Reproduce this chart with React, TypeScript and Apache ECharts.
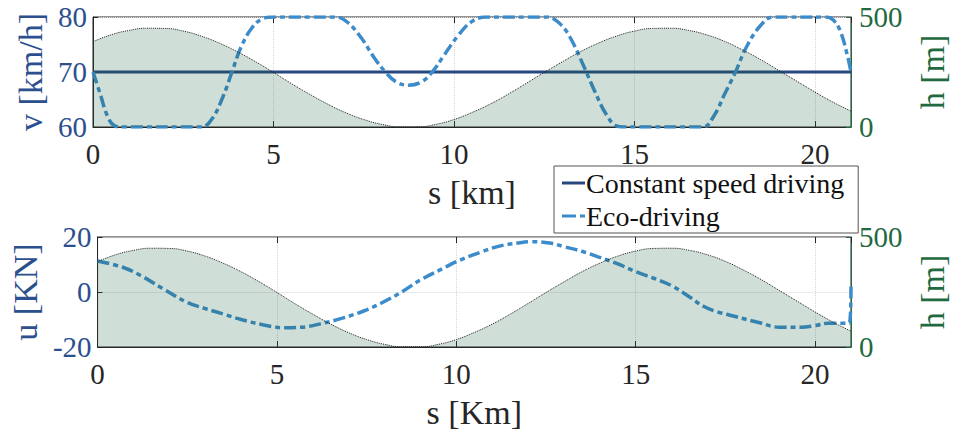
import React, { useEffect, useRef } from "react";
import * as echarts from "echarts";

// distance grid for the terrain profile [km]
const terrainS = [0, 0.5, 1, 1.5, 2, 2.5, 3, 3.5, 4, 4.5, 5, 5.5, 6, 6.5, 7, 7.5, 8, 8.5, 9, 9.5, 10, 10.5, 11, 11.5, 12, 12.5, 13, 13.5, 14, 14.5, 15, 15.5, 16, 16.5, 17, 17.5, 18, 18.5, 19, 19.5, 20, 20.5, 21];
// altitude [m]
const terrainH = [388, 419, 439, 449, 448, 436, 413, 381, 342, 297, 248, 197, 149, 104, 65, 34, 12, 1, 1, 12, 34, 66, 104, 149, 198, 248, 296, 342, 381, 413, 436, 448, 449, 439, 419, 389, 350, 306, 257, 208, 159, 113, 72];

// constant speed driving
const constS = [0, 21];
const constV = [70, 70];

// eco-driving speed
const ecoS = [0, 0.2, 0.4, 0.6, 0.8, 3.0, 3.3, 3.6, 3.85, 4.1, 4.4, 4.7, 5.0, 6.7, 7.0, 7.4, 7.8, 8.1, 8.4, 8.75, 9.1, 9.4, 9.7, 10.1, 10.5, 10.9, 12.6, 12.9, 13.2, 13.6, 13.9, 14.2, 14.5, 14.7, 16.9, 17.2, 17.5, 17.8, 18.1, 18.5, 18.85, 20.3, 20.5, 20.7, 20.9, 21.0];
const ecoV = [70, 66, 62, 60.2, 60, 60, 61.5, 65.5, 70, 74.5, 78, 79.7, 80, 80, 79.3, 76.5, 72.5, 70, 68.2, 67.6, 68.2, 70, 72.8, 76.5, 79.2, 80, 80, 79, 76.5, 71, 66.5, 62.5, 60.2, 60, 60, 62, 66, 70, 74.5, 78.5, 80, 80, 79.5, 77.5, 73, 70];

// eco-driving traction force
const uS = [0, 0.7, 1.2, 1.8, 2.5, 3.0, 3.5, 4.0, 4.6, 5.2, 5.7, 6.2, 6.8, 7.4, 7.9, 8.5, 9.0, 9.6, 10.1, 10.7, 11.2, 11.7, 12.1, 12.6, 13.0, 13.5, 13.95, 14.5, 15.0, 15.5, 16.0, 16.5, 16.9, 17.3, 17.8, 18.4, 19.0, 19.6, 20.0, 20.35, 20.95, 21.0];
const uVal = [11.3, 9.0, 6.0, 1.4, -3.8, -6.0, -8.0, -10.0, -11.9, -13.0, -12.8, -11.6, -9.6, -7.0, -4.1, 0.2, 4.4, 8.4, 11.6, 14.6, 16.7, 17.8, 18.3, 17.8, 16.5, 14.8, 12.8, 10.2, 7.4, 5.0, 2.3, -1.8, -5.3, -7.3, -9.0, -11.0, -12.8, -12.8, -12.2, -11.4, -11.4, 2];

const xTicks = [0, 5, 10, 15, 20];
const vTicks = [60, 70, 80];
const uTicks = [-20, 0, 20];
const hTicks = [0, 500];

const FONT = "Liberation Serif";
const BLUE_TXT = "#2c4f8e";
const GREEN_TXT = "#1f6a3e";
const DARK = "#262626";
const CONST_COL = "#27477f";
const ECO_COL = "#3c8bcb";
const FILL = "rgba(30,100,60,0.3)";
const ECO_DASH = [12, 4, 5, 4];

const pairs = (xs: number[], ys: number[]) => xs.map((x, i) => [x, ys[i]]);

const tickLabel = (color: string, ticks: number[], margin: number, extra: any = {}) => ({
  fontFamily: FONT,
  fontSize: 29,
  color,
  margin,
  ...extra,
  formatter: (v: number) => (ticks.includes(v) ? String(v) : ""),
});

export default function App() {
  const ref = useRef<HTMLDivElement>(null);
  useEffect(() => {
    if (!ref.current) return;
    const chart = echarts.init(ref.current, undefined, { renderer: "svg" });
    const grids = [
      { left: 93, top: 17, width: 763, height: 110 },
      { left: 93, top: 237, width: 763, height: 110 },
    ].map((g) => ({ ...g, show: true, borderColor: DARK, borderWidth: 1, backgroundColor: "transparent" }));

    const xAxisBase = (gi: number, name: string) => ({
      type: "value",
      gridIndex: gi,
      min: 0,
      max: 21,
      interval: 5,
      name,
      nameLocation: "middle",
      nameGap: 48,
      nameTextStyle: { fontFamily: FONT, fontSize: 34, color: DARK },
      axisLine: { show: true, onZero: false, lineStyle: { color: DARK, width: 1 } },
      axisTick: { show: true, inside: true, length: 6, lineStyle: { color: DARK } },
      axisLabel: tickLabel(DARK, xTicks, 12, { showMaxLabel: false, alignMinLabel: "center" }),
      splitLine: { show: true, lineStyle: { color: "#d6d6d6", type: "dotted", width: 1 } },
    });
    const xAxisTop = (gi: number) => ({
      type: "value",
      gridIndex: gi,
      position: "top",
      min: 0,
      max: 21,
      interval: 5,
      axisLine: { show: false, onZero: false },
      axisTick: { show: true, inside: true, length: 6, lineStyle: { color: DARK } },
      axisLabel: { show: false },
      splitLine: { show: false },
    });
    const leftY = (gi: number, min: number, max: number, interval: number, name: string, ticks: number[], gap: number) => ({
      type: "value",
      gridIndex: gi,
      position: "left",
      min,
      max,
      interval,
      name,
      nameLocation: "middle",
      nameRotate: 90,
      nameGap: gap,
      nameTextStyle: { fontFamily: FONT, fontSize: 34, color: BLUE_TXT },
      axisLine: { show: true, onZero: false, lineStyle: { color: DARK, width: 1 } },
      axisTick: { show: true, inside: true, length: 5, lineStyle: { color: DARK } },
      axisLabel: tickLabel(BLUE_TXT, ticks, 6),
      splitLine: { show: true, lineStyle: { color: "#d6d6d6", type: "dotted", width: 1 } },
    });
    const rightY = (gi: number) => ({
      type: "value",
      gridIndex: gi,
      position: "right",
      min: 0,
      max: 500,
      interval: 500,
      name: "h [m]",
      nameLocation: "middle",
      nameRotate: 90,
      nameGap: 64,
      nameTextStyle: { fontFamily: FONT, fontSize: 34, color: GREEN_TXT },
      axisLine: { show: true, onZero: false, lineStyle: { color: GREEN_TXT, width: 1 } },
      axisTick: { show: true, inside: true, length: 5, lineStyle: { color: GREEN_TXT } },
      axisLabel: tickLabel(GREEN_TXT, hTicks, 8),
      splitLine: { show: false },
    });

    const terrainSeries = (xi: number, yi: number) => ({
      type: "line",
      xAxisIndex: xi,
      yAxisIndex: yi,
      data: pairs(terrainS, terrainH),
      smooth: true,
      symbol: "none",
      z: 5,
      silent: true,
      lineStyle: { color: "#222", width: 1, type: "dotted" },
      areaStyle: { color: FILL, origin: "start" },
    });

    chart.setOption({
      animation: false,
      backgroundColor: "#ffffff",
      textStyle: { fontFamily: FONT },
      grid: grids,
      xAxis: [xAxisBase(0, "s [km]"), xAxisBase(1, "s [Km]"), xAxisTop(0), xAxisTop(1)],
      yAxis: [
        leftY(0, 60, 80, 10, "v [km/h]", vTicks, 42),
        rightY(0),
        leftY(1, -20, 20, 20, "u [KN]", uTicks, 52),
        rightY(1),
      ],
      legend: {
        data: [
          { name: "Constant speed driving", icon: "path://M0,0H23V3H0Z", itemStyle: { color: CONST_COL } },
          { name: "Eco-driving", icon: "path://M0,0H14V3H0Z M18,0H23V3H18Z", itemStyle: { color: ECO_COL } },
        ],
        orient: "vertical",
        left: 554,
        top: 166,
        padding: [3, 14, 3, 8],
        itemGap: 5,
        itemWidth: 23,
        itemHeight: 3,
        borderColor: "#555",
        borderWidth: 1,
        backgroundColor: "#ffffff",
        z: 20,
        textStyle: { fontFamily: FONT, fontSize: 28, color: "#111", padding: [0, 0, 0, -4] },
      },
      series: [
        {
          name: "Constant speed driving",
          type: "line",
          xAxisIndex: 0,
          yAxisIndex: 0,
          data: pairs(constS, constV),
          symbol: "none",
          z: 2,
          lineStyle: { color: CONST_COL, width: 3 },
          itemStyle: { color: CONST_COL },
        },
        {
          name: "Eco-driving",
          type: "line",
          xAxisIndex: 0,
          yAxisIndex: 0,
          data: pairs(ecoS, ecoV),
          symbol: "none",
          smooth: 0.4,
          z: 2,
          lineStyle: { color: ECO_COL, width: 3.5, type: ECO_DASH },
          itemStyle: { color: ECO_COL },
        },
        terrainSeries(0, 1),
        {
          name: "Eco-driving",
          type: "line",
          xAxisIndex: 1,
          yAxisIndex: 2,
          data: pairs(uS, uVal),
          symbol: "none",
          smooth: 0.4,
          z: 2,
          lineStyle: { color: ECO_COL, width: 3.5, type: ECO_DASH },
          itemStyle: { color: ECO_COL },
        },
        terrainSeries(1, 3),
      ],
    });
    return () => chart.dispose();
  }, []);
  return <div ref={ref} style={{ width: 957, height: 432, position: "absolute", left: 0, top: 0 }} />;
}
